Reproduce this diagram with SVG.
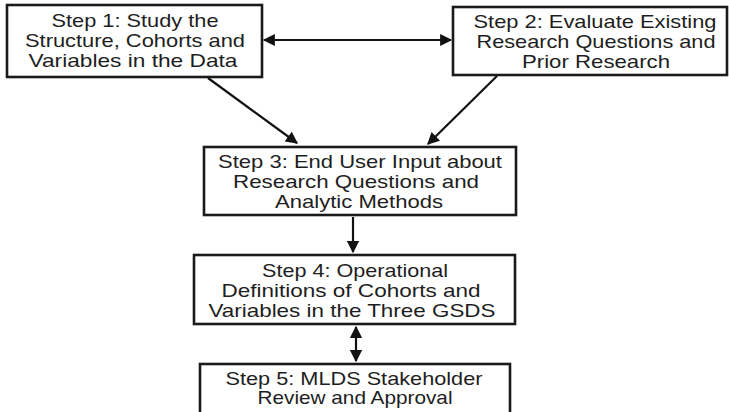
<svg xmlns="http://www.w3.org/2000/svg" width="729" height="412" viewBox="0 0 729 412">
  <style>
    .box { fill: #ffffff; stroke: #1a1a1a; stroke-width: 2.6; }
    .lbl { font-family: "Liberation Sans", Arial, sans-serif; font-size: 19px; fill: #1e1e1e; text-anchor: middle; }
    .conn { stroke: #111111; stroke-width: 2.2; fill: none; }
  </style>
  <defs>
    <marker id="head" viewBox="0 0 10 10" refX="9" refY="5" markerWidth="6" markerHeight="5.5" orient="auto-start-reverse" markerUnits="strokeWidth">
      <path d="M0,0 L10,5 L0,10 Z" fill="#111111"/>
    </marker>
  </defs>
  <rect width="729" height="412" fill="#ffffff"/>

  <g id="connectors">
    <line class="conn" x1="264" y1="40" x2="451" y2="40" marker-start="url(#head)" marker-end="url(#head)"/>
    <line class="conn" x1="208" y1="78" x2="297" y2="143" marker-end="url(#head)"/>
    <line class="conn" x1="497" y1="76" x2="428" y2="144" marker-end="url(#head)"/>
    <line class="conn" x1="353" y1="217" x2="353" y2="252" marker-end="url(#head)"/>
    <line class="conn" x1="356" y1="327" x2="356" y2="361" marker-start="url(#head)" marker-end="url(#head)"/>
  </g>

  <g id="step1">
    <rect class="box" x="7" y="5" width="255" height="72"/>
    <text class="lbl" x="135" y="27" textLength="167" lengthAdjust="spacingAndGlyphs">Step 1: Study the</text>
    <text class="lbl" x="135" y="47" textLength="220" lengthAdjust="spacingAndGlyphs">Structure, Cohorts and</text>
    <text class="lbl" x="133" y="67" textLength="209" lengthAdjust="spacingAndGlyphs">Variables in the Data</text>
  </g>

  <g id="step2">
    <rect class="box" x="453" y="7" width="274" height="68"/>
    <text class="lbl" x="595" y="28" textLength="243" lengthAdjust="spacingAndGlyphs">Step 2: Evaluate Existing</text>
    <text class="lbl" x="596" y="48" textLength="239" lengthAdjust="spacingAndGlyphs">Research Questions and</text>
    <text class="lbl" x="596" y="68" textLength="148" lengthAdjust="spacingAndGlyphs">Prior Research</text>
  </g>

  <g id="step3">
    <rect class="box" x="204" y="147" width="312" height="68"/>
    <text class="lbl" x="360" y="168" textLength="284" lengthAdjust="spacingAndGlyphs">Step 3: End User Input about</text>
    <text class="lbl" x="356" y="188" textLength="246" lengthAdjust="spacingAndGlyphs">Research Questions and</text>
    <text class="lbl" x="359" y="208" textLength="168" lengthAdjust="spacingAndGlyphs">Analytic Methods</text>
  </g>

  <g id="step4">
    <rect class="box" x="194" y="255" width="321" height="69"/>
    <text class="lbl" x="355" y="277" textLength="186" lengthAdjust="spacingAndGlyphs">Step 4: Operational</text>
    <text class="lbl" x="351" y="297" textLength="259" lengthAdjust="spacingAndGlyphs">Definitions of Cohorts and</text>
    <text class="lbl" x="352" y="317" textLength="287" lengthAdjust="spacingAndGlyphs">Variables in the Three GSDS</text>
  </g>

  <g id="step5">
    <rect class="box" x="200" y="364" width="310" height="60"/>
    <text class="lbl" x="354" y="385" textLength="257" lengthAdjust="spacingAndGlyphs">Step 5: MLDS Stakeholder</text>
    <text class="lbl" x="355" y="404" textLength="195" lengthAdjust="spacingAndGlyphs">Review and Approval</text>
  </g>
</svg>
